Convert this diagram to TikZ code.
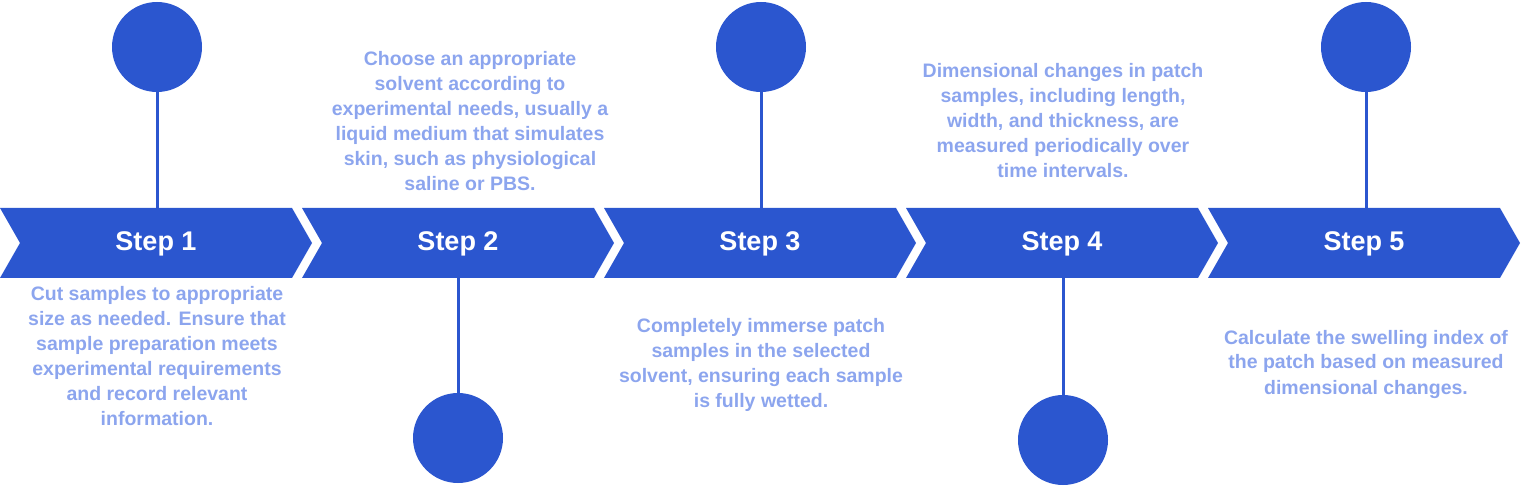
\documentclass[tikz,border=0pt]{standalone}
\usepackage{fontspec}
\setmainfont{Liberation Sans}
\usepackage{xcolor}
\definecolor{stepblue}{RGB}{43,86,207}
\definecolor{noteblue}{RGB}{140,165,238}
\begin{document}
\begin{tikzpicture}[x=1pt,y=-1pt,
  dot/.style={circle,fill=stepblue,minimum size=90pt,inner sep=0pt},
  steplabel/.style={text=white,font=\bfseries\fontsize{27}{30}\selectfont},
  note/.style={text=noteblue,align=center,font=\bfseries\fontsize{19.5}{25}\selectfont}]
\useasboundingbox (0,0) rectangle (1523,486);
% chevrons
\foreach \i in {1,...,5}{
  \pgfmathsetmacro{\xo}{302*(\i-1)}
  \fill[stepblue] (\xo,208) -- (\xo+292,208) -- (\xo+312,243) -- (\xo+292,278) -- (\xo,278) -- (\xo+20,243) -- cycle;
  \node[steplabel] (s\i) at (\xo+156,244) {Step \i};
}
% circles and stems
\node[dot] (c1) at (157,47) {};
\node[dot] (c2) at (458,438) {};
\node[dot] (c3) at (761,47) {};
\node[dot] (c4) at (1063,440) {};
\node[dot] (c5) at (1366,47) {};
\coordinate (t1) at (157,208);
\coordinate (t2) at (458,278);
\coordinate (t3) at (761,208);
\coordinate (t4) at (1063,278);
\coordinate (t5) at (1366,208);
\foreach \i in {1,...,5}
  \draw[stepblue,line width=3pt] (c\i) -- (t\i);
% descriptions
\node[note] (n1) at (157,356) {Cut samples to appropriate\\size as needed. Ensure that\\sample preparation meets\\experimental requirements\\and record relevant\\information.};
\node[note] (n2) at (470,121) {Choose an appropriate\\solvent according to\\experimental needs, usually a\\liquid medium that simulates\\skin, such as physiological\\saline or PBS.};
\node[note] (n3) at (761,365) {Completely immerse patch\\samples in the selected\\solvent, ensuring each sample\\is fully wetted.};
\node[note] (n4) at (1063,121) {Dimensional changes in patch\\samples, including length,\\width, and thickness, are\\measured periodically over\\time intervals.};
\node[note] (n5) at (1366,364) {Calculate the swelling index of\\the patch based on measured\\dimensional changes.};
\end{tikzpicture}
\end{document}
